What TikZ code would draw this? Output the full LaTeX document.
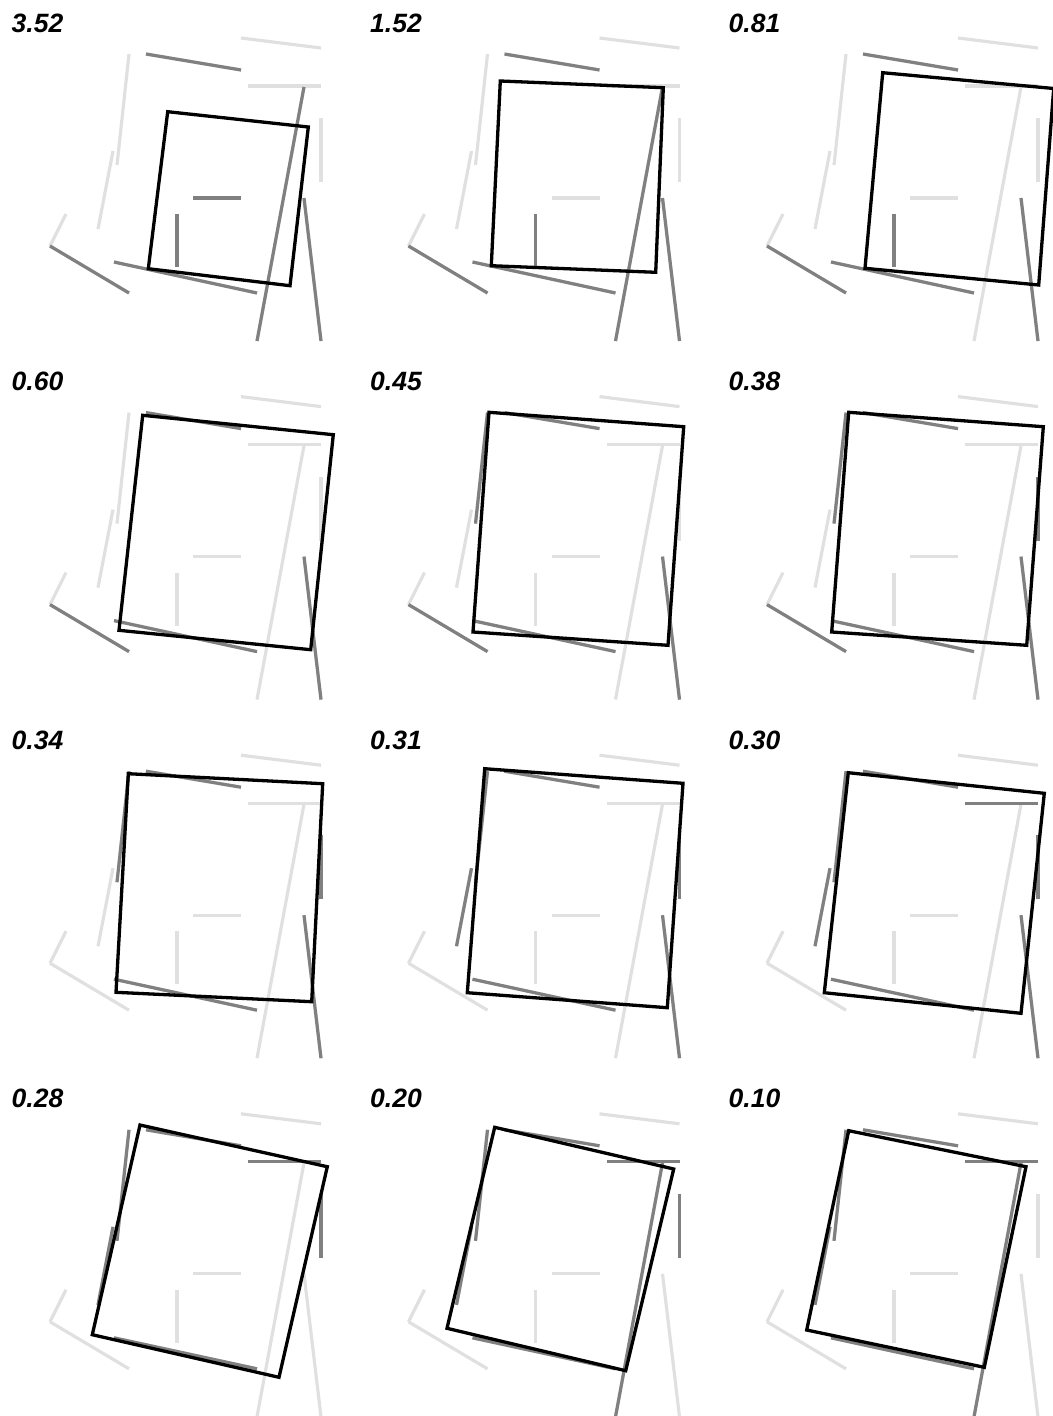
\documentclass[tikz,border=0pt]{standalone}
\usepackage{fontspec}
\setmainfont{Liberation Sans}
\begin{document}
\begin{tikzpicture}[x=1pt,y=-1pt,
  lt/.style={draw={rgb,255:red,224;green,224;blue,224},line width=3.2pt},
  dk/.style={draw={rgb,255:red,128;green,128;blue,128},line width=3.2pt},
  quad/.style={draw=black,line width=3.3pt,line join=miter},
  lbl/.style={anchor=base west,inner sep=0pt,font=\bfseries\itshape\fontsize{26.5}{26.5}\selectfont}]
\useasboundingbox (0,0) rectangle (1052,1416);
\def\sgi{(146,54)--(241,70)}
\def\sgii{(241,38)--(321,48)}
\def\sgiii{(129,54)--(117,165)}
\def\sgiv{(248,86)--(321,86)}
\def\sgv{(304,87)--(257,341)}
\def\sgvi{(321,118)--(321,182)}
\def\sgvii{(113,151)--(98,229)}
\def\sgviii{(193,198)--(241,198)}
\def\sgix{(177,214)--(177,267)}
\def\sgx{(66,214)--(50,246)}
\def\sgxi{(50,246)--(129,293)}
\def\sgxii{(114,262)--(257,293)}
\def\sgxiii{(304,198)--(321,341)}
\newcommand\pnl[5]{%
  \begin{scope}[shift={(358.5*#1,358.6*#2)}]
    \foreach \k in {i,ii,iii,iv,v,vi,vii,viii,ix,x,xi,xii,xiii}{\path[lt] \csname sg\k\endcsname;}
    \foreach \k in {#3}{\path[dk] \csname sg\k\endcsname;}
    \node[lbl] (#4) at (11.5,32) {#5};
  \end{scope}}
\pnl{0}{0}{i,v,viii,ix,xi,xii,xiii}{l1}{3.52}
\pnl{1}{0}{i,v,ix,xi,xii,xiii}{l2}{1.52}
\pnl{2}{0}{i,ix,xi,xii,xiii}{l3}{0.81}
\pnl{0}{1}{i,xi,xii,xiii}{l4}{0.60}
\pnl{1}{1}{i,iii,xi,xii,xiii}{l5}{0.45}
\pnl{2}{1}{i,iii,vi,xi,xii,xiii}{l6}{0.38}
\pnl{0}{2}{i,iii,vi,xii,xiii}{l7}{0.34}
\pnl{1}{2}{i,iii,vi,vii,xii,xiii}{l8}{0.31}
\pnl{2}{2}{i,iii,iv,vi,vii,xii,xiii}{l9}{0.30}
\pnl{0}{3}{i,iii,iv,vi,vii,xii}{l10}{0.28}
\pnl{1}{3}{i,iii,iv,v,vi,vii,xii}{l11}{0.20}
\pnl{2}{3}{i,iii,iv,v,vii,xii}{l12}{0.10}
% quadrilaterals
\draw[quad] (167.7,111.7) -- (308.3,127) -- (290,285.7) -- (148.3,268.7) -- cycle;
\draw[quad] (500.3,81) -- (663.3,87.7) -- (655.7,272.3) -- (491.3,265.7) -- cycle;
\draw[quad] (882.7,72.7) -- (1053.7,88.5) -- (1038.7,285) -- (865,268.3) -- cycle;
\draw[quad] (142.7,415.3) -- (333.3,434.7) -- (310.7,649.7) -- (119,630.3) -- cycle;
\draw[quad] (489,412.3) -- (683.7,426.7) -- (668,645.3) -- (473,632) -- cycle;
\draw[quad] (848.7,412.3) -- (1043.3,426.7) -- (1026.7,645.3) -- (831.7,632) -- cycle;
\draw[quad] (128.3,773.7) -- (322.7,783.7) -- (311.7,1001.7) -- (116,992.3) -- cycle;
\draw[quad] (484.7,768.7) -- (683,783.3) -- (667.3,1007.7) -- (467.3,992.7) -- cycle;
\draw[quad] (848.3,772.7) -- (1044.3,793.3) -- (1021,1013.3) -- (824.3,992.7) -- cycle;
\draw[quad] (140,1125) -- (327.3,1166.7) -- (279,1377.3) -- (92.3,1334.7) -- cycle;
\draw[quad] (494.7,1127.3) -- (673.7,1169) -- (625.7,1370.7) -- (447,1328.3) -- cycle;
\draw[quad] (848.7,1130.7) -- (1026,1166.7) -- (984.3,1367.3) -- (806.7,1330) -- cycle;
\end{tikzpicture}
\end{document}
